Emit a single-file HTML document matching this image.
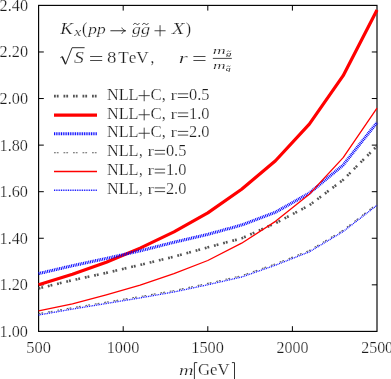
<!DOCTYPE html>
<html><head><meta charset="utf-8"><title>chart</title>
<style>html,body{margin:0;padding:0;background:#fff;}body{width:391px;height:379px;position:relative;overflow:hidden;font-family:"Liberation Serif",serif;}</style>
</head><body>
<svg width="391" height="379" viewBox="0 0 391 379" style="position:absolute;left:0;top:0">
<rect x="0" y="0" width="391" height="379" fill="#fff"/>
<clipPath id="c"><rect x="38.6" y="5.4" width="338.4" height="326"/></clipPath>
<filter id="gs" x="0" y="0" width="391" height="379" filterUnits="userSpaceOnUse" color-interpolation-filters="sRGB"><feColorMatrix type="saturate" values="0"/></filter>
<path d="M54 96.1 L97 96.1" fill="none" stroke="#555" stroke-width="2.6" stroke-dasharray="1.8 1 1.8 4.9"/>
<path d="M54 115.2 L97 115.2" fill="none" stroke="#ff0000" stroke-width="3.2"/>
<path d="M54 133.7 L97 133.7" fill="none" stroke="#0000ff" stroke-width="3.1" stroke-dasharray="0.95 0.81"/>
<path d="M54 152.7 L97 152.7" fill="none" stroke="#606060" stroke-width="1.1" stroke-dasharray="1.8 1 1.8 4.9"/>
<path d="M54 171.5 L97 171.5" fill="none" stroke="#ff0000" stroke-width="1.3"/>
<path d="M54 190.2 L97 190.2" fill="none" stroke="#0000ff" stroke-width="1.35" stroke-dasharray="0.9 0.86"/>
<rect x="38.6" y="5.4" width="338.4" height="326" fill="none" stroke="#000" stroke-width="1.15"/>
<path d="M38.60 284.83 h5.2 M377.00 284.83 h-5.2 M38.60 238.26 h5.2 M377.00 238.26 h-5.2 M38.60 191.69 h5.2 M377.00 191.69 h-5.2 M38.60 145.11 h5.2 M377.00 145.11 h-5.2 M38.60 98.54 h5.2 M377.00 98.54 h-5.2 M38.60 51.97 h5.2 M377.00 51.97 h-5.2 M123.20 331.40 v-5.2 M123.20 5.40 v5.2 M207.80 331.40 v-5.2 M207.80 5.40 v5.2 M292.40 331.40 v-5.2 M292.40 5.40 v5.2" stroke="#000" stroke-width="1" fill="none"/>
<g fill="none" stroke-linejoin="round">
<path d="M38.60 288.40 L72.44 280.21 L106.28 272.87 L140.12 264.91 L173.96 256.69 L207.80 247.37 L241.64 238.36 L275.48 223.20 L309.32 205.32 L343.16 179.82 L377.00 146.08" stroke="#555" stroke-width="2.6" stroke-dasharray="1.8 1 1.8 4.9"/>
<path d="M38.60 284.70 L72.44 274.20 L106.28 262.23 L140.12 248.12 L173.96 231.93 L207.80 212.82 L241.64 189.23 L275.48 160.73 L309.32 124.19 L343.16 75.69 L377.00 10.09" stroke="#ff0000" stroke-width="3.2"/>
<path d="M38.60 273.59 L72.44 265.70 L106.28 258.46 L140.12 250.87 L173.96 242.25 L207.80 234.38 L241.64 225.07 L275.48 212.21 L309.32 193.12 L343.16 165.06 L377.00 122.56" stroke="#0000ff" stroke-width="3.1" stroke-dasharray="0.95 0.81"/>
<path d="M38.60 313.60 L72.44 307.68 L106.28 302.09 L140.12 296.51 L173.96 290.57 L207.80 283.35 L241.64 275.62 L275.48 263.79 L309.32 250.45 L343.16 230.12 L377.00 203.90" stroke="#606060" stroke-width="1.1" stroke-dasharray="1.8 1 1.8 4.9"/>
<path d="M38.60 310.90 L72.44 303.91 L106.28 294.83 L140.12 285.05 L173.96 273.69 L207.80 260.51 L241.64 243.18 L275.48 221.36 L309.32 194.21 L343.16 157.65 L377.00 108.12" stroke="#ff0000" stroke-width="1.3"/>
<path d="M38.60 314.99 L72.44 309.08 L106.28 303.49 L140.12 297.90 L173.96 291.96 L207.80 284.75 L241.64 277.02 L275.48 265.19 L309.32 251.84 L343.16 231.52 L377.00 205.30" stroke="#0000ff" stroke-width="1.35" stroke-dasharray="0.9 0.86"/>
</g>
<g font-family="Liberation Serif, serif" font-size="16px" fill="#1c1c1c" filter="url(#gs)" style="font-kerning:none" stroke="#fff" stroke-width="0.22" paint-order="fill stroke">
<text transform="translate(-0.43 336.85) scale(1.0160 1.0000)" font-size="16px">1.00</text>
<text transform="translate(-0.43 290.28) scale(1.0160 1.0000)" font-size="16px">1.20</text>
<text transform="translate(-0.43 243.71) scale(1.0160 1.0000)" font-size="16px">1.40</text>
<text transform="translate(-0.43 197.14) scale(1.0160 1.0000)" font-size="16px">1.60</text>
<text transform="translate(-0.43 150.56) scale(1.0160 1.0000)" font-size="16px">1.80</text>
<text transform="translate(-0.41 103.99) scale(1.0155 1.0000)" font-size="16px">2.00</text>
<text transform="translate(-0.41 57.42) scale(1.0155 1.0000)" font-size="16px">2.20</text>
<text transform="translate(-0.41 10.85) scale(1.0155 1.0000)" font-size="16px">2.40</text>
<text transform="translate(26.29 352.75) scale(1.0285 1.0000)" font-size="16px">500</text>
<text transform="translate(106.66 352.75) scale(1.0205 1.0000)" font-size="16px">1000</text>
<text transform="translate(191.26 352.75) scale(1.0205 1.0000)" font-size="16px">1500</text>
<text transform="translate(276.60 352.75) scale(0.9971 1.0000)" font-size="16px">2000</text>
<text transform="translate(361.20 352.75) scale(0.9971 1.0000)" font-size="16px">2500</text>
<text transform="translate(106.93 99.50) scale(1.0175 1.0000)" font-size="16px">NLL</text>
<path d="M138.60 95.65 H149.80 M144.20 90.05 V101.25" fill="none" stroke="#1c1c1c" stroke-width="0.8"/>
<text transform="translate(150.51 99.50) scale(1.0532 1.0000)" font-size="16px">C,</text>
<text transform="translate(170.61 99.50) scale(1.2594 1.0000)" font-size="15.4px">r</text>
<path d="M177.80 93.80 H188.20 M177.80 97.50 H188.20" fill="none" stroke="#1c1c1c" stroke-width="0.8"/>
<text transform="translate(188.98 99.50) scale(1.0231 1)" font-size="16px">0.5</text>
<text transform="translate(106.93 118.60) scale(1.0175 1.0000)" font-size="16px">NLL</text>
<path d="M138.60 114.75 H149.80 M144.20 109.15 V120.35" fill="none" stroke="#1c1c1c" stroke-width="0.8"/>
<text transform="translate(150.51 118.60) scale(1.0532 1.0000)" font-size="16px">C,</text>
<text transform="translate(170.61 118.60) scale(1.2594 1.0000)" font-size="15.4px">r</text>
<path d="M177.80 112.90 H188.20 M177.80 116.60 H188.20" fill="none" stroke="#1c1c1c" stroke-width="0.8"/>
<text transform="translate(188.98 118.60) scale(1.0231 1)" font-size="16px">1.0</text>
<text transform="translate(106.93 137.10) scale(1.0175 1.0000)" font-size="16px">NLL</text>
<path d="M138.60 133.25 H149.80 M144.20 127.65 V138.85" fill="none" stroke="#1c1c1c" stroke-width="0.8"/>
<text transform="translate(150.51 137.10) scale(1.0532 1.0000)" font-size="16px">C,</text>
<text transform="translate(170.61 137.10) scale(1.2594 1.0000)" font-size="15.4px">r</text>
<path d="M177.80 131.40 H188.20 M177.80 135.10 H188.20" fill="none" stroke="#1c1c1c" stroke-width="0.8"/>
<text transform="translate(188.98 137.10) scale(1.0231 1)" font-size="16px">2.0</text>
<text transform="translate(106.93 156.10) scale(1.0175 1.0000)" font-size="16px">NLL</text>
<text transform="translate(139.01 156.10) scale(0.9652 1.0000)" font-size="16px">,</text>
<text transform="translate(147.51 156.10) scale(1.2594 1.0000)" font-size="15.4px">r</text>
<path d="M154.70 150.40 H165.10 M154.70 154.10 H165.10" fill="none" stroke="#1c1c1c" stroke-width="0.8"/>
<text transform="translate(165.88 156.10) scale(1.0231 1)" font-size="16px">0.5</text>
<text transform="translate(106.93 174.90) scale(1.0175 1.0000)" font-size="16px">NLL</text>
<text transform="translate(139.01 174.90) scale(0.9652 1.0000)" font-size="16px">,</text>
<text transform="translate(147.51 174.90) scale(1.2594 1.0000)" font-size="15.4px">r</text>
<path d="M154.70 169.20 H165.10 M154.70 172.90 H165.10" fill="none" stroke="#1c1c1c" stroke-width="0.8"/>
<text transform="translate(165.88 174.90) scale(1.0231 1)" font-size="16px">1.0</text>
<text transform="translate(106.93 193.60) scale(1.0175 1.0000)" font-size="16px">NLL</text>
<text transform="translate(139.01 193.60) scale(0.9652 1.0000)" font-size="16px">,</text>
<text transform="translate(147.51 193.60) scale(1.2594 1.0000)" font-size="15.4px">r</text>
<path d="M154.70 187.90 H165.10 M154.70 191.60 H165.10" fill="none" stroke="#1c1c1c" stroke-width="0.8"/>
<text transform="translate(165.88 193.60) scale(1.0231 1)" font-size="16px">2.0</text>
<text transform="translate(178.97 374.60) scale(1.3107 1.0000)" font-size="15.4px" font-style="italic">m</text>
<path d="M197.3 362.6 H194.4 V380" fill="none" stroke="#1c1c1c" stroke-width="0.9"/>
<text transform="translate(197.91 374.60) scale(1.0485 1.0000)" font-size="16px">GeV</text>
<path d="M231.9 362.6 H234.5 V380" fill="none" stroke="#1c1c1c" stroke-width="0.9"/>
<text transform="translate(60.22 34.30) scale(1.0956 1.0000)" font-size="17.2px" font-style="italic">K</text>
<text transform="translate(74.19 36.20) scale(1.1302 0.8430)" font-size="14px" font-style="italic" stroke-width="0.2">x</text>
<text transform="translate(81.92 34.30) scale(0.9161 1.0000)" font-size="17px">(</text>
<text transform="translate(88.22 34.30) scale(1.1452 1.0000)" font-size="15.2px" font-style="italic">pp</text>
<path d="M110.4 30.75 H125.4 M121.8 27.6 C122.5 29.3 123.8 30.3 125.6 30.75 C123.8 31.2 122.5 32.2 121.8 33.9" fill="none" stroke="#1c1c1c" stroke-width="0.9"/>
<text transform="translate(131.89 34.30) scale(1.1613 1.0000)" font-size="15.2px" font-style="italic">g</text>
<text transform="translate(140.89 34.30) scale(1.2033 1.0000)" font-size="15.2px" font-style="italic">g</text>
<path d="M133.40 24.80 c0.90 -2.00 2.10 -1.60 3.00 -0.80 s1.92 1.00 3.00 -0.90" fill="none" stroke="#1c1c1c" stroke-width="0.8"/>
<path d="M142.40 24.80 c0.90 -2.00 2.10 -1.60 3.00 -0.80 s1.92 1.00 3.00 -0.90" fill="none" stroke="#1c1c1c" stroke-width="0.8"/>
<path d="M154.50 30.75 H165.60 M160.05 25.20 V36.30" fill="none" stroke="#1c1c1c" stroke-width="0.8"/>
<text transform="translate(171.69 34.30) scale(1.2623 1.0000)" font-size="16.4px" font-style="italic">X</text>
<text transform="translate(185.69 34.30) scale(0.9390 1.0000)" font-size="17px">)</text>
<path d="M60.4 57.7 L62.3 56.5 M65.6 64.2 L72.1 47.7 H84.6" fill="none" stroke="#1c1c1c" stroke-width="0.9"/>
<path d="M62.2 56.6 L65.6 64.2" fill="none" stroke="#1c1c1c" stroke-width="1.4"/>
<text transform="translate(74.07 62.60) scale(1.2158 1.0000)" font-size="16.2px" font-style="italic">S</text>
<path d="M90.10 56.50 H102.20 M90.10 60.50 H102.20" fill="none" stroke="#1c1c1c" stroke-width="0.8"/>
<text transform="translate(106.98 62.60) scale(1.1797 1.0000)" font-size="16px">8</text>
<text transform="translate(118.19 62.60) scale(1.0729 1.0000)" font-size="16px">TeV</text>
<text transform="translate(150.61 62.60) scale(0.9652 1.0000)" font-size="16px">,</text>
<text transform="translate(178.87 62.60) scale(1.2800 0.8670)" font-size="18px" font-style="italic">r</text>
<path d="M193.40 56.50 H205.50 M193.40 60.50 H205.50" fill="none" stroke="#1c1c1c" stroke-width="0.8"/>
<path d="M212.85 58.4 H231.8" fill="none" stroke="#1c1c1c" stroke-width="0.8"/>
<text transform="translate(212.65 54.00) scale(1.2810 0.8110)" font-size="14px" font-style="italic" stroke-width="0.2">m</text>
<text transform="translate(226.04 55.90) scale(1.2406 0.7800)" font-size="9px" font-style="italic" stroke="none">g</text>
<path d="M227.20 51.70 c0.54 -1.20 1.26 -0.96 1.80 -0.48 s1.15 0.60 1.80 -0.54" fill="none" stroke="#1c1c1c" stroke-width="0.55"/>
<text transform="translate(212.97 69.25) scale(1.2477 0.8110)" font-size="14px" font-style="italic" stroke-width="0.2">m</text>
<text transform="translate(225.72 70.70) scale(1.0902 0.7800)" font-size="9px" font-style="italic" stroke="none">q</text>
<path d="M227.00 66.70 c0.51 -1.20 1.19 -0.96 1.70 -0.48 s1.09 0.60 1.70 -0.54" fill="none" stroke="#1c1c1c" stroke-width="0.55"/>
</g>
</svg>
</body></html>
